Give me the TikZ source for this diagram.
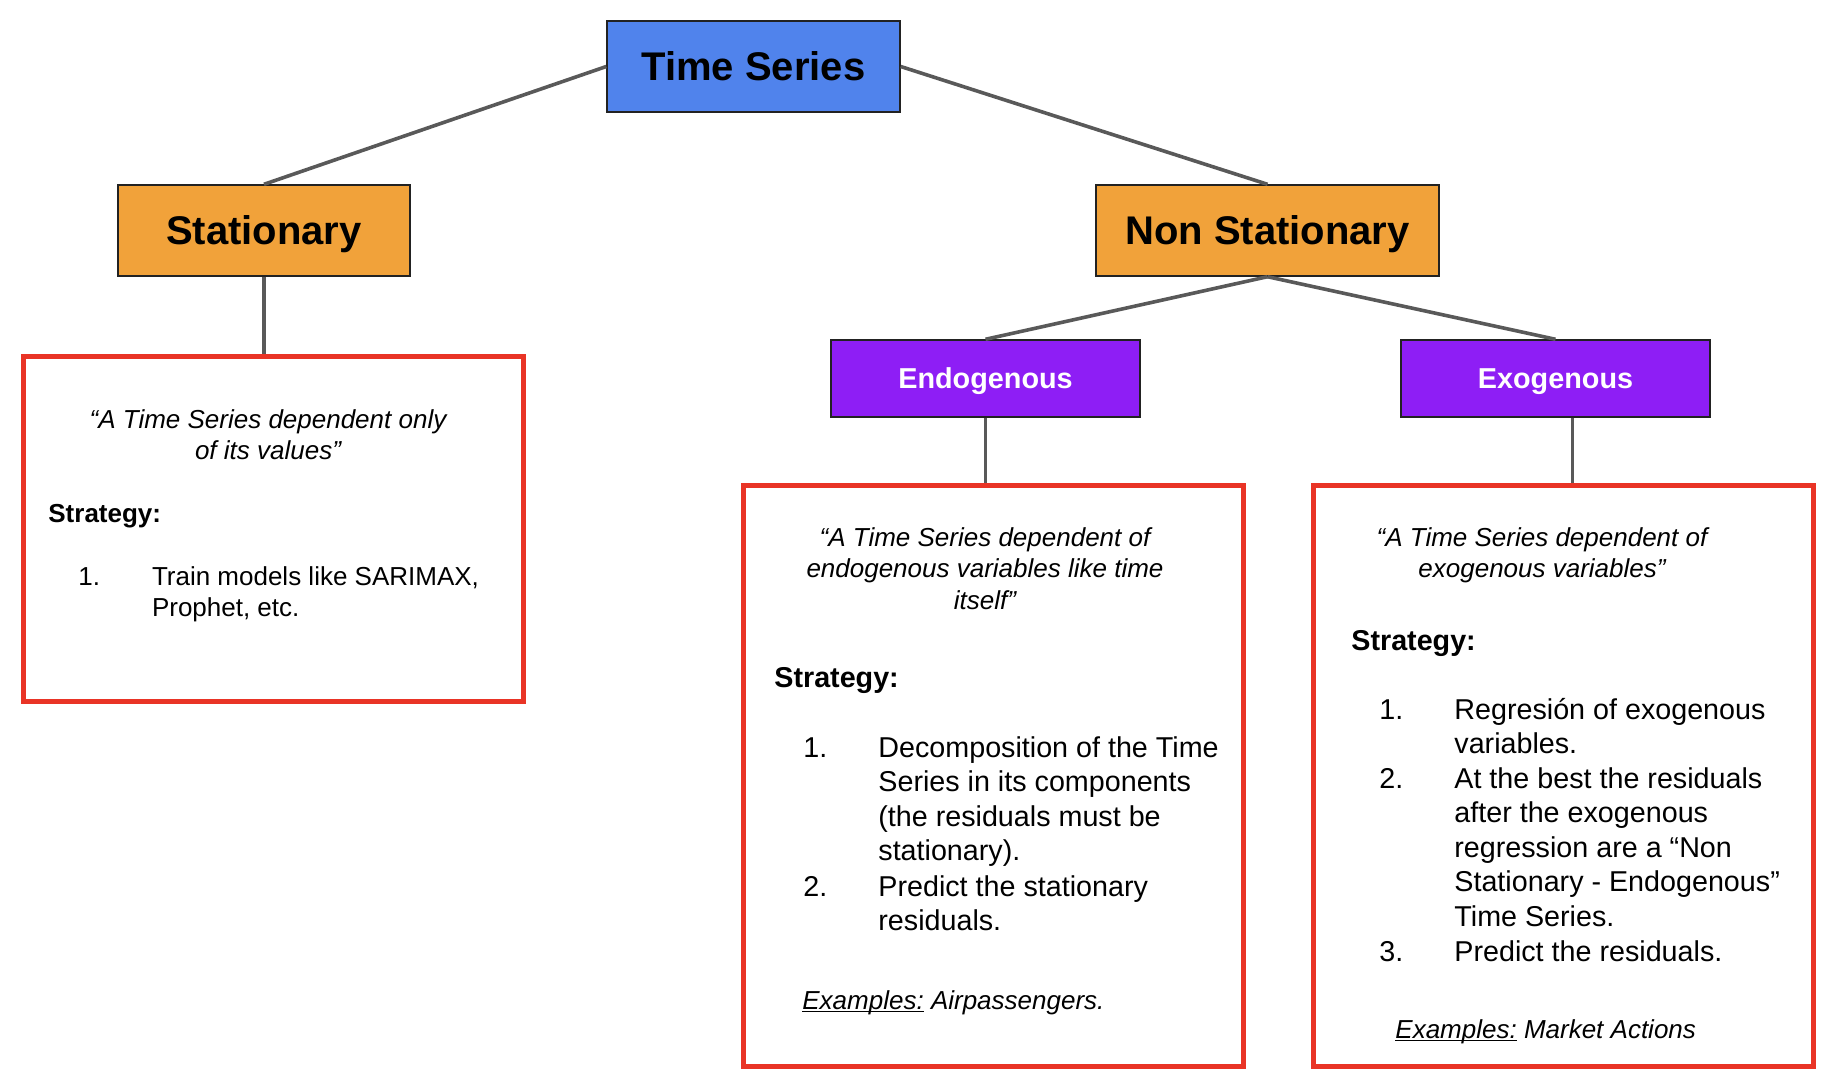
\documentclass[tikz,border=0pt]{standalone}
\usepackage{fontspec}
\setmainfont{Liberation Sans}
\definecolor{tsblue}{RGB}{80,131,236}
\definecolor{tsorange}{RGB}{241,162,58}
\definecolor{tspurple}{RGB}{142,30,245}
\definecolor{tsred}{RGB}{233,52,38}
\definecolor{tsline}{RGB}{89,89,89}
\definecolor{tsedge}{RGB}{34,34,34}

% underline that ignores descenders
\newcommand\tightuline[1]{\underline{\smash{#1}}}

\tikzset{
  catbox/.style={draw=tsedge, line width=0.7pt, inner sep=0pt},
  headbox/.style={catbox, text height=14.3pt, text depth=0pt, font=\fontsize{20}{24}\selectfont\bfseries},
  subbox/.style={catbox, fill=tspurple, text=white, text height=10.3pt, text depth=0pt, font=\fontsize{14.4}{17}\selectfont\bfseries},
  notebox/.style={draw=tsred, line width=2.5pt, inner sep=0pt},
  link/.style={draw=tsline, line width=1.8pt},
  txt/.style={inner sep=0pt, anchor=base west, font=\fontsize{14.35}{17.25}\selectfont},
  txttight/.style={inner sep=0pt, anchor=base west, font=\fontsize{13}{15.75}\selectfont},
  strat/.style={inner sep=0pt, anchor=base west, font=\fontsize{14.35}{17.25}\selectfont\bfseries},
  strattight/.style={inner sep=0pt, anchor=base west, font=\fontsize{13}{15.75}\selectfont\bfseries},
  quotetxt/.style={inner sep=0pt, anchor=base, font=\fontsize{13}{15.75}\selectfont\itshape},
  extxt/.style={inner sep=0pt, anchor=base west, font=\fontsize{13}{17.25}\selectfont\itshape},
}

\begin{document}
\begin{tikzpicture}[x=0.5pt, y=-0.5pt]
  \useasboundingbox (0,0) rectangle (1828,1078);

  % category boxes
  \node[headbox, fill=tsblue, minimum width=146.5pt, minimum height=45.5pt] (ts) at (753.5,66.5) {Time Series};
  \node[headbox, fill=tsorange, minimum width=146pt, minimum height=45.5pt] (stat) at (264,230.5) {Stationary};
  \node[headbox, fill=tsorange, minimum width=171.5pt, minimum height=45.5pt] (nonstat) at (1267.5,230.5) {Non Stationary};
  \node[subbox, minimum width=154.5pt, minimum height=38.5pt] (endo) at (985.5,378.5) {Endogenous};
  \node[subbox, minimum width=154.5pt, minimum height=38.5pt] (exo) at (1555.5,378.5) {Exogenous};

  % description frames
  \node[notebox, minimum width=250pt, minimum height=172.5pt] (statnote) at (273,528.5) {};
  \node[notebox, minimum width=250pt, minimum height=290.5pt] (endonote) at (993,775.5) {};
  \node[notebox, minimum width=250pt, minimum height=290.5pt] (exonote) at (1563,775.5) {};

  % connectors
  \draw[link] (ts.west) -- (stat.north);
  \draw[link] (ts.east) -- (nonstat.north);
  \draw[link] (stat.south) -- (stat.south |- statnote.north);
  \draw[link] (nonstat.south) -- (endo.north);
  \draw[link] (nonstat.south) -- (exo.north);
  \draw[link] (endo.south) -- (endo.south |- endonote.north);
  \coordinate (exoport) at ([xshift=8.5pt]exo.south);
  \draw[link] (exoport) -- (exoport |- exonote.north);

  % stationary description
  \node[quotetxt] (statq) at (268,428) {\begin{tabular}[t]{@{}c@{}}“A Time Series dependent only\\ of its values”\end{tabular}};
  \node[strattight] (statstrat) at (48,522) {Strategy:};
  \node[txttight] (stat1n) at (78,585) {1.};
  \node[txttight] (stat1t) at (151.6,585) {\begin{tabular}[t]{@{}l@{}}Train models like SARIMAX,\\ Prophet, etc.\end{tabular}};

  % endogenous description
  \node[quotetxt] (endoq) at (985,546) {\begin{tabular}[t]{@{}c@{}}“A Time Series dependent of\\ endogenous variables like time\\ itself”\end{tabular}};
  \node[strat] (endostrat) at (774,687) {Strategy:};
  \node[txt] (endo1n) at (803,757) {1.};
  \node[txt] (endo1t) at (878,757) {\begin{tabular}[t]{@{}l@{}}Decomposition of the Time\\ Series in its components\\ (the residuals must be\\ stationary).\end{tabular}};
  \node[txt] (endo2n) at (803,896) {2.};
  \node[txt] (endo2t) at (878,896) {\begin{tabular}[t]{@{}l@{}}Predict the stationary\\ residuals.\end{tabular}};
  \node[extxt] (endoex) at (802,1009) {\tightuline{Examples:} Airpassengers.};

  % exogenous description
  \node[quotetxt] (exoq) at (1542,546) {\begin{tabular}[t]{@{}c@{}}“A Time Series dependent of\\ exogenous variables”\end{tabular}};
  \node[strat] (exostrat) at (1351,650) {Strategy:};
  \node[txt] (exo1n) at (1379,719) {1.};
  \node[txt] (exo1t) at (1454,719) {\begin{tabular}[t]{@{}l@{}}Regresión of exogenous\\ variables.\end{tabular}};
  \node[txt] (exo2n) at (1379,788) {2.};
  \node[txt] (exo2t) at (1454,788) {\begin{tabular}[t]{@{}l@{}}At the best the residuals\\ after the exogenous\\ regression are a “Non\\ Stationary - Endogenous”\\ Time Series.\end{tabular}};
  \node[txt] (exo3n) at (1379,961) {3.};
  \node[txt] (exo3t) at (1454,961) {Predict the residuals.};
  \node[extxt] (exoex) at (1395,1038) {\tightuline{Examples:} Market Actions};
\end{tikzpicture}
\end{document}
